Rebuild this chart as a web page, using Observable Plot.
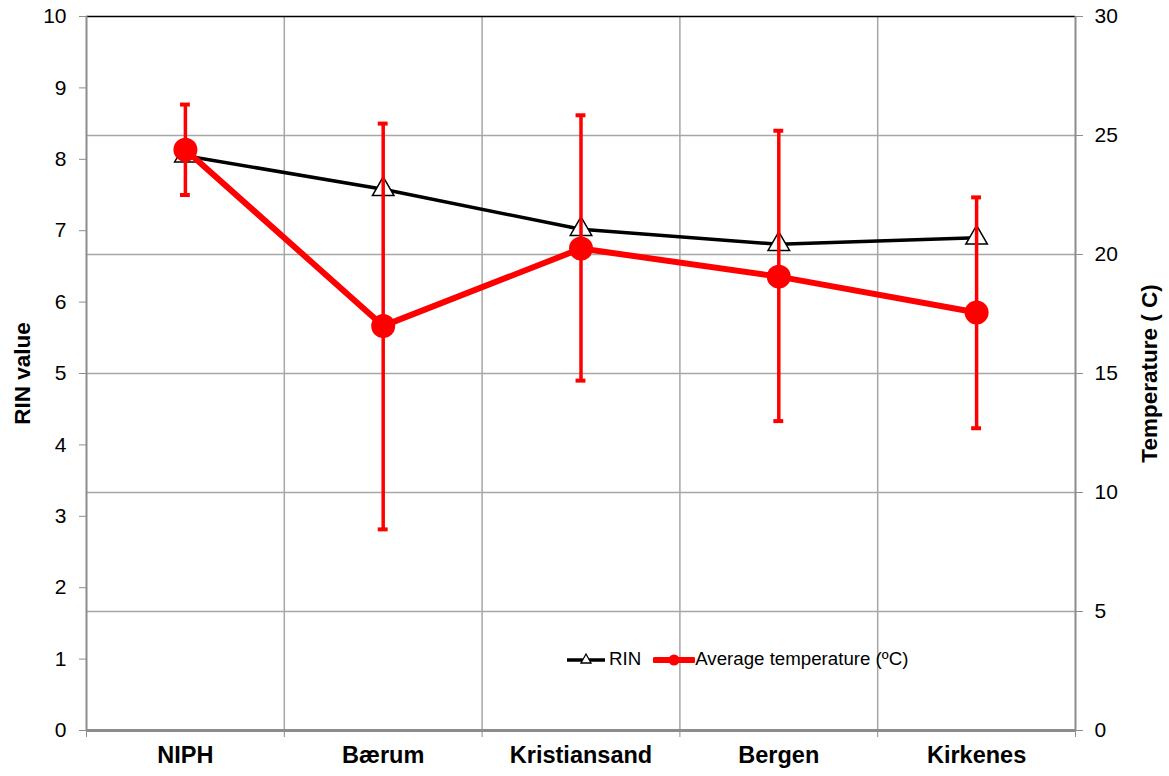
<!DOCTYPE html>
<html>
<head>
<meta charset="utf-8">
<script src="https://cdn.jsdelivr.net/npm/d3@7"></script>
<script src="https://cdn.jsdelivr.net/npm/@observablehq/plot@0.6"></script>
<style>
  body { margin: 0; background: white; font-family: "Liberation Sans", Arial, sans-serif; }
  #wrap { position: relative; width: 1169px; height: 776px; }
  #legend { position: absolute; left: 566px; top: 647px; display: flex; align-items: center; font-size: 18.7px; color: black; white-space: nowrap; }
  #legend .item { display: flex; align-items: center; }
  #legend svg { display: block; }
</style>
</head>
<body>
<div id="wrap"></div>
<script>
const categories = ["NIPH", "Bærum", "Kristiansand", "Bergen", "Kirkenes"];
const rinValues = [8.05, 7.58, 7.02, 6.81, 6.9];
const tempValues = [24.4, 17.0, 20.25, 19.07, 17.56];
const tempHigh = [26.3, 25.5, 25.85, 25.2, 22.4];
const tempLow = [22.5, 8.45, 14.7, 13.0, 12.7];
const leftTicks = [0, 1, 2, 3, 4, 5, 6, 7, 8, 9, 10];
const rightTicks = [0, 5, 10, 15, 20, 25, 30];
const leftLabel = "RIN value";
const rightLabel = "Temperature ( C)";
const legendLabels = ["RIN", "Average temperature (ºC)"];

const ratio = 3; // right axis (0–30) vs left axis (0–10)
const rows = categories.map((c, i) => ({
  cat: c,
  pos: i + 0.5,
  rin: rinValues[i],
  temp: tempValues[i] / ratio,
  hi: tempHigh[i] / ratio,
  lo: tempLow[i] / ratio
}));
const capHalf = 0.025;
const grid = "#a6a6a6";
const axisGray = "#8c8c8c";

const chart = Plot.plot({
  width: 1169,
  height: 776,
  marginLeft: 86,
  marginRight: 94,
  marginTop: 16,
  marginBottom: 46,
  x: { domain: [0, categories.length] },
  y: { domain: [0, 10] },
  style: { fontFamily: "'Liberation Sans', Arial, sans-serif", background: "white", color: "black" },
  marks: [
    Plot.ruleY(rightTicks.filter(v => v > 0 && v < 30), { y: v => v / ratio, stroke: grid, strokeWidth: 1.5 }),
    Plot.ruleX(d3.range(1, categories.length), { stroke: grid, strokeWidth: 1.5 }),
    Plot.ruleY([10], { stroke: "black", strokeWidth: 1.5 }),
    Plot.ruleX([0], { stroke: axisGray, strokeWidth: 2 }),
    Plot.ruleX([categories.length], { stroke: axisGray, strokeWidth: 2 }),
    Plot.axisY({ ticks: leftTicks, tickSize: 7, tickPadding: 13, fontSize: 21, stroke: axisGray, fill: "black", label: null }),
    Plot.axisY({ anchor: "right", ticks: rightTicks.map(v => v / ratio), tickFormat: d => Math.round(d * ratio), tickSize: 7, tickPadding: 12, fontSize: 21, stroke: axisGray, fill: "black", label: null }),
    Plot.axisX({ ticks: d3.range(0, categories.length + 1), tickSize: 7, tickFormat: () => "", stroke: axisGray, label: null }),
    Plot.axisX({ ticks: rows.map(d => d.pos), tickSize: 0, tickPadding: 16, tickFormat: d => categories[Math.floor(d)], fontSize: 23.5, fontWeight: "bold", fill: "black", label: null }),
    Plot.ruleY([0], { stroke: axisGray, strokeWidth: 3 }),
    Plot.text([leftLabel], { frameAnchor: "left", textAnchor: "middle", rotate: -90, dx: -64, fontSize: 22.5, fontWeight: "bold", fill: "black" }),
    Plot.text([rightLabel], { frameAnchor: "right", textAnchor: "middle", rotate: -90, dx: 74, fontSize: 22.5, fontWeight: "bold", fill: "black" }),
    // RIN series
    Plot.line(rows, { x: "pos", y: "rin", stroke: "black", strokeWidth: 3.5 }),
    Plot.dot(rows, { x: "pos", y: "rin", symbol: "triangle", r: 8, fill: "white", stroke: "black", strokeWidth: 1.5 }),
    // Temperature series
    Plot.ruleX(rows, { x: "pos", y1: "lo", y2: "hi", stroke: "red", strokeWidth: 3.5 }),
    Plot.ruleY(rows, { y: "hi", x1: d => d.pos - capHalf, x2: d => d.pos + capHalf, stroke: "red", strokeWidth: 4 }),
    Plot.ruleY(rows, { y: "lo", x1: d => d.pos - capHalf, x2: d => d.pos + capHalf, stroke: "red", strokeWidth: 4 }),
    Plot.line(rows, { x: "pos", y: "temp", stroke: "red", strokeWidth: 6 }),
    Plot.dot(rows, { x: "pos", y: "temp", r: 12, fill: "red" })
  ]
});

const wrap = document.getElementById("wrap");
wrap.appendChild(chart);

const legend = document.createElement("div");
legend.id = "legend";
legend.innerHTML = `
  <div class="item">
    <svg width="40" height="24"><line x1="1" y1="13" x2="39" y2="13" stroke="black" stroke-width="3.5"/>
      <path d="M20,7 L25,16 L15,16 Z" fill="white" stroke="black" stroke-width="1.3"/></svg>
    <span style="margin-left:3px">${legendLabels[0]}</span>
  </div>
  <div class="item" style="margin-left:12px">
    <svg width="42" height="24"><line x1="2" y1="13" x2="40" y2="13" stroke="red" stroke-width="6" stroke-linecap="round"/>
      <circle cx="21" cy="13" r="5.5" fill="red"/></svg>
    <span>${legendLabels[1]}</span>
  </div>`;
wrap.appendChild(legend);
</script>
</body>
</html>
